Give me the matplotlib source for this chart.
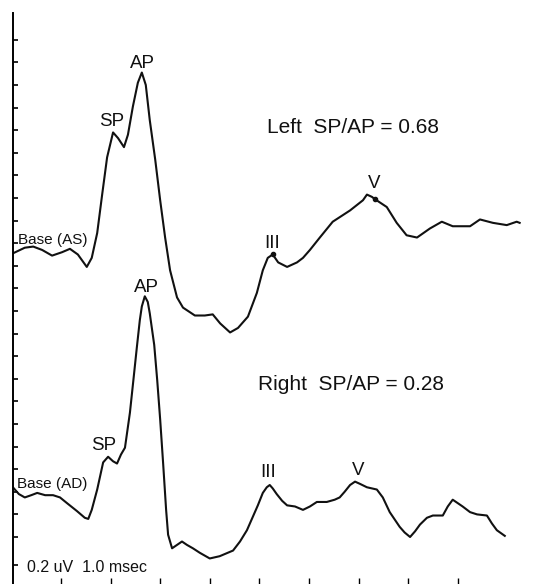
import matplotlib
matplotlib.use("Agg")
from matplotlib import pyplot as plt
import numpy as np

plt.rcParams['font.family'] = ['Liberation Sans', 'DejaVu Sans']

# time axis in msec, amplitude in uV
t_left = [0.03, 0.27, 0.44, 0.62, 0.82, 1.02, 1.18, 1.34, 1.52, 1.62,
          1.73, 1.83, 1.93, 2.05, 2.15, 2.27, 2.35, 2.45, 2.55, 2.63,
          2.71, 2.79, 2.90, 3.00, 3.10, 3.20, 3.34, 3.46, 3.70, 3.90,
          4.06, 4.21, 4.41, 4.57, 4.77, 4.95, 5.07, 5.17, 5.27, 5.38,
          5.56, 5.76, 5.88, 6.02, 6.22, 6.48, 6.83, 7.09, 7.17, 7.27,
          7.33, 7.57, 7.77, 7.97, 8.18, 8.44, 8.68, 8.90, 9.25, 9.45,
          9.71, 9.99, 10.19, 10.25]
v_left = [2.51, 2.56, 2.57, 2.54, 2.49, 2.52, 2.55, 2.50, 2.39, 2.47,
          2.69, 3.03, 3.36, 3.58, 3.53, 3.45, 3.56, 3.81, 4.02, 4.11,
          4.00, 3.69, 3.34, 2.98, 2.65, 2.36, 2.12, 2.03, 1.96, 1.96,
          1.97, 1.89, 1.81, 1.85, 1.95, 2.16, 2.36, 2.47, 2.50, 2.43,
          2.39, 2.43, 2.47, 2.54, 2.65, 2.79, 2.89, 2.98, 3.03, 3.01,
          2.99, 2.92, 2.78, 2.67, 2.65, 2.73, 2.79, 2.75, 2.75, 2.81,
          2.78, 2.76, 2.79, 2.78]

t_right = [0.03, 0.15, 0.27, 0.40, 0.52, 0.68, 0.84, 0.98, 1.12, 1.32,
           1.48, 1.55, 1.62, 1.73, 1.85, 1.95, 2.05, 2.13, 2.21, 2.29,
           2.39, 2.47, 2.53, 2.59, 2.63, 2.69, 2.75, 2.79, 2.88, 2.94,
           3.00, 3.06, 3.12, 3.16, 3.24, 3.34, 3.44, 3.54, 3.66, 3.80,
           4.00, 4.20, 4.47, 4.61, 4.75, 4.87, 4.97, 5.07, 5.15, 5.21,
           5.27, 5.35, 5.46, 5.56, 5.72, 5.88, 6.02, 6.16, 6.36, 6.52,
           6.62, 6.72, 6.83, 6.93, 7.03, 7.17, 7.37, 7.49, 7.63, 7.83,
           7.93, 8.04, 8.14, 8.24, 8.38, 8.50, 8.70, 8.80, 8.90, 9.00,
           9.10, 9.25, 9.39, 9.59, 9.69, 9.79, 9.95]
v_right = [0.44, 0.38, 0.35, 0.37, 0.39, 0.37, 0.37, 0.35, 0.30, 0.23,
           0.17, 0.16, 0.24, 0.42, 0.66, 0.71, 0.67, 0.65, 0.73, 0.79,
           1.10, 1.43, 1.68, 1.92, 2.04, 2.13, 2.08, 1.98, 1.70, 1.39,
           1.04, 0.65, 0.24, 0.02, -0.10, -0.07, -0.04, -0.07, -0.10, -0.14,
           -0.19, -0.17, -0.12, -0.04, 0.06, 0.18, 0.28, 0.39, 0.44, 0.46,
           0.43, 0.38, 0.32, 0.28, 0.27, 0.24, 0.27, 0.31, 0.31, 0.33,
           0.35, 0.40, 0.46, 0.49, 0.47, 0.44, 0.42, 0.35, 0.22, 0.09,
           0.04, 0.00, 0.05, 0.11, 0.17, 0.19, 0.19, 0.27, 0.33, 0.30,
           0.27, 0.22, 0.20, 0.19, 0.12, 0.06, 0.01]

# peak labels: (text, t, v)
left_peaks = [("SP", 2.03, 3.68), ("AP", 2.65, 4.19), ("III", 5.25, 2.60), ("V", 7.31, 3.13)]
right_peaks = [("SP", 1.87, 0.81), ("AP", 2.73, 2.21), ("III", 5.17, 0.57), ("V", 6.99, 0.59)]
marked_t = [5.27, 7.33]
marked_v = [2.50, 2.99]

fig = plt.figure(figsize=(5.38, 5.84), dpi=100)
ax = fig.add_axes([13 / 538, 0, 1 - 13 / 538, (584 - 13) / 584])

ax.plot(t_left, v_left, color='#111111', lw=1.5, solid_joinstyle='round')
ax.plot(t_right, v_right, color='#111111', lw=1.5, solid_joinstyle='round')
ax.plot(marked_t, marked_v, 'o', color='#111111', ms=3)

for txt, x, y in left_peaks + right_peaks:
    ax.text(x, y, txt, ha='center', va='center', fontsize=13.5, color='#111111')

ax.text(0.13, 2.63, "Base (AS)", ha='left', va='center', fontsize=11, color='#111111')
ax.text(0.11, 0.47, "Base (AD)", ha='left', va='center', fontsize=11, color='#111111')
ax.text(5.15, 3.62, "Left  SP/AP = 0.68", ha='left', va='center', fontsize=15, color='#111111')
ax.text(4.97, 1.35, "Right  SP/AP = 0.28", ha='left', va='center', fontsize=15, color='#111111')
ax.text(0.31, -0.27, "0.2 uV  1.0 msec", ha='left', va='center', fontsize=11.5, color='#111111')

ax.set_xlim(0.032, 10.62)
ax.set_ylim(-0.416, 4.637)
ax.set_xticks(np.arange(1, 10))
ax.set_yticks(list(np.arange(0, 4.5, 0.2)) + [-0.25])
ax.set_xticklabels([])
ax.set_yticklabels([])
ax.tick_params(axis='y', direction='in', length=3.5, width=1.2)
ax.tick_params(axis='x', direction='in', length=4.5, width=1.0)
for s in ['top', 'right', 'bottom']:
    ax.spines[s].set_visible(False)
ax.spines['left'].set_linewidth(1.4)
ax.patch.set_alpha(0)

plt.savefig('out.png', dpi=100)
